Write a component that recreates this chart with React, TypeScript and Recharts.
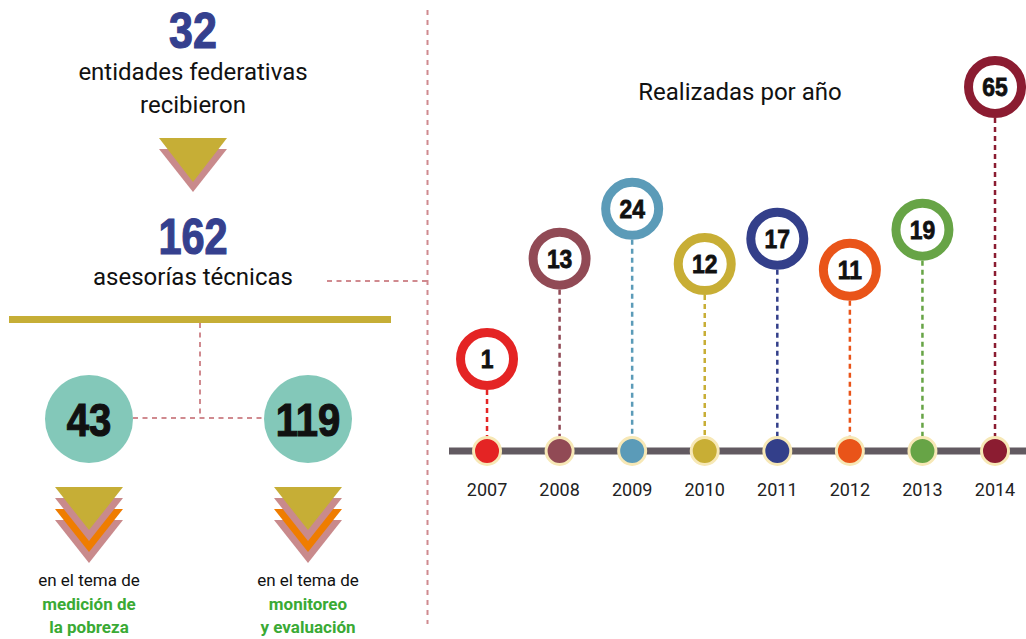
import React from 'react';
import { ComposedChart, Scatter, XAxis, YAxis } from 'recharts';

// ---- data ----
const years = [2007, 2008, 2009, 2010, 2011, 2012, 2013, 2014];
const asesoriasPorAnio = [1, 13, 24, 12, 17, 11, 19, 65];
const entidadesFederativas = 32;
const totalAsesorias = 162;
const temaValores = [43, 119];
const temaNombres = [
  ['medición de', 'la pobreza'],
  ['monitoreo', 'y evaluación'],
];
const tituloSerie = 'Realizadas por año';

// ---- styles ----
const yearColors = ['#e42424', '#914a55', '#5b9bb8', '#c8ae35', '#333f8a', '#e95419', '#67a446', '#8b1c31'];
const NAVY = '#35408e';
const GOLD = '#c6ae36';
const PINK = '#c98a8c';
const ORANGE = '#ef7d00';
const TEAL = '#83c8b9';
const GREEN = '#3aaa35';
const DASH = '#d08a8f';
const BASE_Y = 451;
const BOLD = '"Liberation Sans", Arial, sans-serif';
const SANS = 'Roboto, "Noto Sans", sans-serif';

const chartData = years.map((y, i) => ({ year: y, value: asesoriasPorAnio[i], color: yearColors[i] }));

const Bubble = (props: any) => {
  const { cx, cy, payload } = props;
  const c = payload.color;
  return (
    <g>
      <line x1={cx} x2={cx} y1={cy + 31} y2={BASE_Y - 14} stroke={c} strokeWidth={2.5} strokeDasharray="5 4" />
      <circle cx={cx} cy={cy} r={26.5} fill="#fff" stroke={c} strokeWidth={9} />
      <g transform={`translate(${cx},${cy + 9}) scale(0.88,1)`}>
        <text x={0} y={0} textAnchor="middle" fontFamily={BOLD} fontWeight={700} fontSize={26} fill="#111"
          stroke="#111" strokeWidth={0.8}>
          {payload.value}
        </text>
      </g>
      <circle cx={cx} cy={BASE_Y} r={13.5} fill={c} stroke="#f7e8b6" strokeWidth={3} />
    </g>
  );
};

const YearTick = (props: any) => {
  const { x, payload } = props;
  return (
    <text x={x} y={BASE_Y + 45} textAnchor="middle" fontFamily={SANS} fontSize={18} fill="#222">
      {payload.value}
    </text>
  );
};

const tri = (cx: number, top: number, w: number, h: number) =>
  `${cx - w / 2},${top} ${cx + w / 2},${top} ${cx},${top + h}`;

const Stack = ({ cx }: { cx: number }) => (
  <g>
    <polygon points={tri(cx, 520, 68, 43)} fill={PINK} />
    <polygon points={tri(cx, 509, 68, 43)} fill={ORANGE} />
    <polygon points={tri(cx, 498, 68, 43)} fill={PINK} />
    <polygon points={tri(cx, 487, 68, 43)} fill={GOLD} />
  </g>
);

const BigNum = ({ x, y, size, sx, fill, children }: any) => (
  <g transform={`translate(${x},${y}) scale(${sx},1)`}>
    <text x={0} y={0} textAnchor="middle" fontFamily={BOLD} fontWeight={700} fontSize={size} fill={fill}
      stroke={fill} strokeWidth={1.2}>
      {children}
    </text>
  </g>
);

const LeftPanel = () => {
  const centers = [89, 308];
  return (
    <svg width={1026} height={639} style={{ position: 'absolute', left: 0, top: 0 }}>
      {/* separator */}
      <line x1={427.5} x2={427.5} y1={10} y2={624} stroke={DASH} strokeWidth={2} strokeDasharray="5 5" />
      <line x1={327} x2={427} y1={281} y2={281} stroke={DASH} strokeWidth={2} strokeDasharray="5 4.5" />

      <BigNum x={193} y={48} size={50} sx={0.86} fill={NAVY}>{entidadesFederativas}</BigNum>
      <text x={193} y={80} textAnchor="middle" fontFamily={SANS} fontSize={24} fill="#111">entidades federativas</text>
      <text x={193} y={113} textAnchor="middle" fontFamily={SANS} fontSize={24} fill="#111">recibieron</text>

      <polygon points={tri(193, 149, 68, 43)} fill={PINK} />
      <polygon points={tri(193, 138, 68, 44)} fill={GOLD} />

      <BigNum x={193} y={254} size={50} sx={0.83} fill={NAVY}>{totalAsesorias}</BigNum>
      <text x={193} y={285} textAnchor="middle" fontFamily={SANS} fontSize={24} fill="#111">asesorías técnicas</text>

      <rect x={9} y={316} width={382} height={7} fill={GOLD} />

      <line x1={200} x2={200} y1={323} y2={418} stroke={DASH} strokeWidth={2} strokeDasharray="5 4.5" />
      <line x1={133} x2={265} y1={418} y2={418} stroke={DASH} strokeWidth={2} strokeDasharray="5 4.5" />

      {centers.map((cx, i) => (
        <g key={i}>
          <circle cx={cx} cy={419} r={44} fill={TEAL} />
          <BigNum x={cx} y={436} size={46} sx={0.87} fill="#111">{temaValores[i]}</BigNum>
          <Stack cx={cx} />
          <text x={cx} y={586} textAnchor="middle" fontFamily={SANS} fontSize={17} fill="#111">en el tema de</text>
          <text x={cx} y={610} textAnchor="middle" fontFamily={SANS} fontWeight={700} fontSize={17} fill={GREEN}>
            {temaNombres[i][0]}
          </text>
          <text x={cx} y={633} textAnchor="middle" fontFamily={SANS} fontWeight={700} fontSize={17} fill={GREEN}>
            {temaNombres[i][1]}
          </text>
        </g>
      ))}

      <text x={740} y={100} textAnchor="middle" fontFamily={SANS} fontSize={24} fill="#111">{tituloSerie}</text>
    </svg>
  );
};

export default function App() {
  return (
    <div style={{ position: 'absolute', left: 0, top: 0, width: 1026, height: 639, background: '#fff' }}>
      <LeftPanel />
      <div style={{ position: 'absolute', left: 0, top: 0 }}>
        <ComposedChart
          width={1026}
          height={639}
          data={chartData}
          margin={{ top: 87, right: 0, bottom: 138, left: 449 }}
        >
          <XAxis
            dataKey="year"
            type="number"
            domain={[2006.476, 2014.427]}
            ticks={years}
            height={50}
            axisLine={{ stroke: '#625a61', strokeWidth: 7 }}
            tickLine={false}
            tick={<YearTick />}
            interval={0}
          />
          <YAxis hide width={0} type="number" dataKey="value" scale="sqrt" domain={[-1.926, 65]} />
          <Scatter dataKey="value" isAnimationActive={false} shape={<Bubble />} />
        </ComposedChart>
      </div>
    </div>
  );
}
